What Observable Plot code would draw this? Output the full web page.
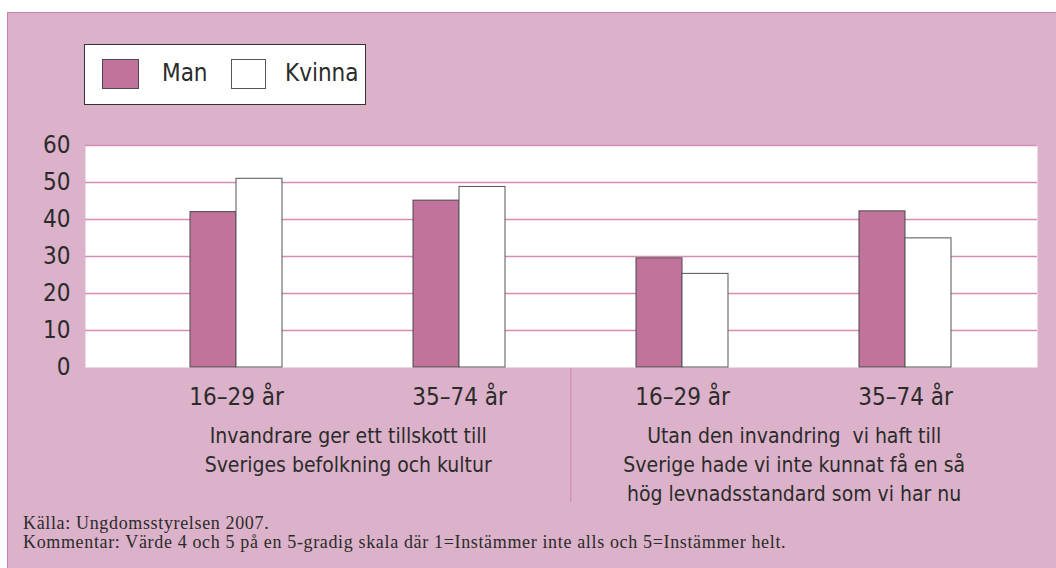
<!DOCTYPE html>
<html>
<head>
<meta charset="utf-8">
<script src="https://cdn.jsdelivr.net/npm/d3@7"></script>
<script src="https://cdn.jsdelivr.net/npm/@observablehq/plot@0.6"></script>
<style>
  html, body { margin: 0; padding: 0; background: #ffffff; }
  body { width: 1056px; height: 568px; position: relative; overflow: hidden; }
  #panel { position: absolute; left: 7px; top: 12px; width: 1049px; height: 556px;
           background: #dbb2c9; border-top: 1px solid #c985a9; border-left: 1px solid #c985a9; box-sizing: border-box; }
  #legend { position: absolute; left: 84px; top: 44px; width: 282px; height: 61px; box-sizing: border-box;
            background: #ffffff; border: 1px solid #333; font-family: "DejaVu Sans Condensed", "DejaVu Sans", sans-serif;
            font-stretch: condensed; font-size: 24px; color: #2b2b2b; }
  .sw { position: absolute; top: 14px; box-sizing: border-box; }
  .lab { position: absolute; top: 13px; line-height: 30px; }
  #chart { position: absolute; left: 7px; top: 125px; }
  #chart svg text { font-stretch: condensed; }
  #caption { position: absolute; left: 23px; top: 514px; font-family: "Liberation Serif", "DejaVu Serif", serif;
             font-size: 18px; line-height: 19px; letter-spacing: 0.65px; color: #2b2b2b; white-space: nowrap; }
</style>
</head>
<body>
<div id="panel"></div>
<div id="legend"></div>
<div id="chart"></div>
<div id="caption"></div>
<script>
// ---- data ----
const groupKeys = ["A:16–29", "A:35–74", "B:16–29", "B:35–74"];
const ageLabels = ["16–29 år", "35–74 år", "16–29 år", "35–74 år"];
const statementKeys = ["A:16–29", "B:16–29"];
const statements = [
  "Invandrare ger ett tillskott till\nSveriges befolkning och kultur",
  "Utan den invandring  vi haft till\nSverige hade vi inte kunnat få en så\nhög levnadsstandard som vi har nu"
];
const seriesNames = ["Man", "Kvinna"];
const manValues = [42.0, 45.1, 29.5, 42.2];
const kvinnaValues = [51.0, 48.8, 25.3, 34.9];
const yTicks = [0, 10, 20, 30, 40, 50, 60];
const captionLines = [
  "Källa: Ungdomsstyrelsen 2007.",
  "Kommentar: Värde 4 och 5 på en 5-gradig skala där 1=Instämmer inte alls och 5=Instämmer helt."
];

// ---- styles ----
const manFill = "#c1739c";
const gridColor = "#d58db6";
const textColor = "#2b2b2b";
const font = '"DejaVu Sans Condensed", "DejaVu Sans", sans-serif';

const manRows = groupKeys.map((k, i) => ({key: k, value: manValues[i], series: seriesNames[0]}));
const kvinnaRows = groupKeys.map((k, i) => ({key: k, value: kvinnaValues[i], series: seriesNames[1]}));
const statementRows = statementKeys.map((k, i) => ({key: k, label: statements[i]}));
const labelOf = new Map(groupKeys.map((k, i) => [k, ageLabels[i]]));

const step = 223.4;
const half = step / 2;

const chart = Plot.plot({
  width: 1049,
  height: 385,
  marginTop: 20,
  marginBottom: 143,
  marginLeft: 78,
  marginRight: 19,
  style: {background: "transparent", fontFamily: font, fontSize: "24px", color: textColor},
  x: {domain: groupKeys, range: [116.7, 1010.3], paddingInner: 0.794, paddingOuter: 0.397, label: null},
  y: {domain: [0, 60], ticks: yTicks, label: null},
  marks: [
    Plot.frame({fill: "white", stroke: "none"}),
    Plot.gridY(yTicks.filter(t => t > 0), {stroke: gridColor, strokeOpacity: 1, strokeWidth: 1.3}),
    Plot.barY(manRows, {x: "key", y: "value", fill: manFill, stroke: "#4a4a4a", strokeWidth: 1, dx: -23}),
    Plot.barY(kvinnaRows, {x: "key", y: "value", fill: "white", stroke: "#555", strokeWidth: 1, dx: 23}),
    Plot.axisY({ticks: yTicks, tickSize: 0, tickPadding: 15, fontSize: 24, fill: textColor}),
    Plot.axisX({tickSize: 0, tickPadding: 20, fontSize: 24, fill: textColor, tickFormat: k => labelOf.get(k)}),
    Plot.text(statementRows, {x: "key", text: "label", frameAnchor: "bottom", lineAnchor: "top", dx: half, dy: 55, fontSize: 21, lineHeight: 1.38, fill: textColor}),
    Plot.ruleX([statementKeys[1]], {x: d => d, dx: -half, stroke: gridColor, strokeWidth: 1.3, insetTop: 223, insetBottom: -135})
  ]
});
document.getElementById("chart").appendChild(chart);

// legend
const legend = document.getElementById("legend");
const swatchDefs = [
  {name: seriesNames[0], fill: manFill, border: "#4a4a4a", sx: 17, w: 37, tx: 77},
  {name: seriesNames[1], fill: "white", border: "#555", sx: 146, w: 35, tx: 200}
];
for (const s of swatchDefs) {
  const sw = document.createElement("div");
  sw.className = "sw";
  sw.style.left = s.sx + "px"; sw.style.width = s.w + "px"; sw.style.height = "30px";
  sw.style.background = s.fill; sw.style.border = "1px solid " + s.border;
  legend.appendChild(sw);
  const lab = document.createElement("div");
  lab.className = "lab";
  lab.style.left = s.tx + "px";
  lab.textContent = s.name;
  legend.appendChild(lab);
}

// caption
const cap = document.getElementById("caption");
for (const line of captionLines) {
  const d = document.createElement("div");
  d.textContent = line;
  cap.appendChild(d);
}
</script>
</body>
</html>
